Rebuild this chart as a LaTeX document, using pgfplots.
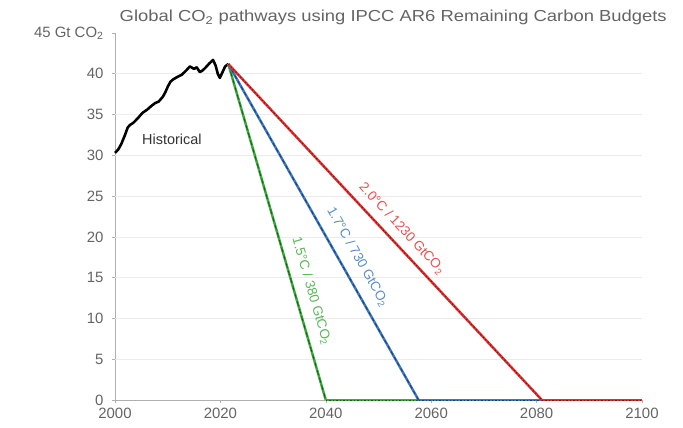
\documentclass[border=0pt]{standalone}
\usepackage{pgfplots}
\pgfplotsset{compat=1.18}
\usepackage{fontspec}
\setmainfont{Liberation Sans}
\definecolor{cred}{RGB}{228,45,45}
\definecolor{cblue}{RGB}{60,120,195}
\definecolor{cgreen}{RGB}{60,170,60}
\definecolor{axgray}{RGB}{175,175,175}
\definecolor{gridgray}{RGB}{235,235,235}
\definecolor{txtgray}{RGB}{100,100,100}
\begin{document}
\begin{tikzpicture}
\path[use as bounding box] (-115bp,-28bp) rectangle (568bp,400bp);
\begin{axis}[
  scale only axis, width=527bp, height=367bp,
  xmin=2000, xmax=2100, ymin=0, ymax=45,
  axis x line*=bottom, axis y line*=left,
  axis line style={axgray, line width=0.8pt},
  xtick={2000,2020,...,2100}, ytick={0,5,...,45},
  yticklabels={0,5,10,15,20,25,30,35,40,{45 Gt CO\textsubscript{2}}},
  extra y ticks={5,10,...,40}, extra y tick labels={},
  extra y tick style={grid=major, major grid style={gridgray, line width=0.6pt}, major tick length=0pt},
  tick align=outside, major tick length=3bp,
  tick style={axgray, line width=0.6pt},
  /pgf/number format/assume math mode=true,
  x tick label style={/pgf/number format/1000 sep={}},
  tick label style={font=\fontsize{15}{15}\selectfont, text=txtgray},
  yticklabel style={xshift=-5bp},
  xticklabel style={yshift=-2bp},
  clip=false,
]
% historical
\addplot[black, line width=2.6pt, line join=round] coordinates {
(2000,30.3) (2000.6,30.7) (2001.2,31.4) (2001.9,32.5) (2002.4,33.4) (2002.8,33.7) (2003.5,34.0)
(2004.4,34.6) (2005.2,35.2) (2006.1,35.6) (2006.8,36.0) (2007.6,36.4) (2008.3,36.6) (2009.1,37.2)
(2009.6,37.8) (2010,38.4) (2010.5,39.0) (2011,39.3) (2011.8,39.6) (2012.7,39.9) (2013.5,40.4)
(2014.2,40.9) (2015,40.6) (2015.5,40.8) (2016.1,40.2) (2016.6,40.4) (2017.1,40.7) (2017.8,41.2)
(2018.6,41.7) (2019.1,41.0) (2019.5,40.0) (2019.9,39.5) (2020.4,40.2) (2020.9,40.9) (2021.5,41.2)
};
\node[font=\fontsize{14.5}{14.5}\selectfont, black!80] at (axis cs:2010.8,32.0) {Historical};
% green 1.5C
\addplot[cgreen, line width=2.5pt] coordinates {(2021.5,41.2) (2040,0)}
  node[pos=0.69, sloped, above=6bp, font=\fontsize{13.5}{13.5}\selectfont, text=cgreen!85!white] {1.5°C / 380 GtCO\textsubscript{2}};
\addplot[black!50!cgreen, line width=0.8pt, dash pattern=on 5pt off 3pt] coordinates {(2021.5,41.2) (2040,0)};
\addplot[cgreen, line width=2.5pt] coordinates {(2040,0) (2057.6,0)};
\addplot[black!50!cgreen, line width=0.8pt, dash pattern=on 1.5pt off 2pt] coordinates {(2040,0) (2057.6,0)};
% blue 1.7C
\addplot[cblue, line width=2.5pt] coordinates {(2021.5,41.2) (2057.6,0)}
  node[pos=0.60, sloped, above=7bp, font=\fontsize{13.5}{13.5}\selectfont, text=cblue!85!white] {1.7°C / 730 GtCO\textsubscript{2}};
\addplot[black!50!cblue, line width=0.8pt, dash pattern=on 4pt off 2.5pt] coordinates {(2021.5,41.2) (2057.6,0)};
\addplot[cblue, line width=2.5pt] coordinates {(2057.6,0) (2081,0)};
\addplot[black!50!cblue, line width=0.8pt, dash pattern=on 1.5pt off 2pt] coordinates {(2057.6,0) (2081,0)};
% red 2.0C
\addplot[cred, line width=2.5pt] coordinates {(2021.5,41.2) (2081,0)}
  node[pos=0.52, sloped, above=4bp, font=\fontsize{13.5}{13.5}\selectfont, text=cred!85!white] {2.0°C / 1230 GtCO\textsubscript{2}};
\addplot[black!50!cred, line width=0.8pt, dash pattern=on 1.5pt off 2pt] coordinates {(2021.5,41.2) (2081,0)};
\addplot[cred, line width=2.5pt] coordinates {(2081,0) (2100,0)};
\addplot[black!50!cred, line width=0.8pt, dash pattern=on 1.5pt off 2pt] coordinates {(2081,0) (2100,0)};
% title
\node[font=\fontsize{16}{16}\selectfont, text=txtgray, anchor=base, xscale=1.155] at (axis cs:2052.8,46.4) {Global CO\textsubscript{2} pathways using IPCC AR6 Remaining Carbon Budgets};
\end{axis}
\end{tikzpicture}
\end{document}
